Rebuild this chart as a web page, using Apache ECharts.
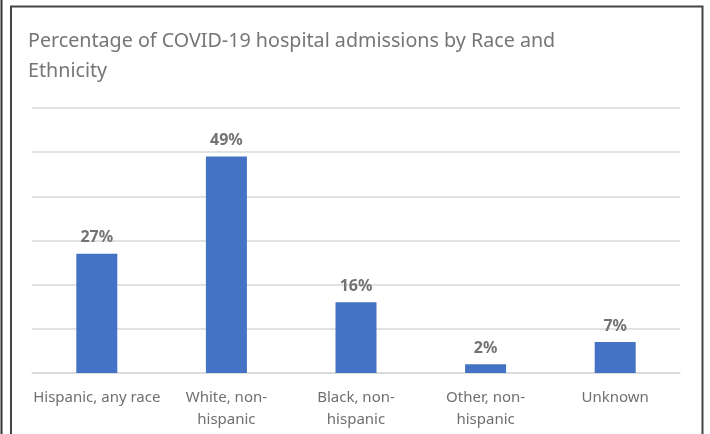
<!DOCTYPE html>
<html><head><meta charset="utf-8">
<script src="https://cdn.jsdelivr.net/npm/echarts@6/dist/echarts.min.js"></script>
<style>html,body{margin:0;padding:0;background:#fff;}#c{width:710px;height:434px;}</style>
</head><body><div id="c"></div>
<script>
const categories = ['Hispanic, any race', 'White, non-hispanic', 'Black, non-hispanic', 'Other, non-hispanic', 'Unknown'];
const values = [27, 49, 16, 2, 7];
const titleText = 'Percentage of COVID-19 hospital admissions by Race and\nEthnicity';

const chart = echarts.init(document.getElementById('c'));
chart.setOption({
  animation: false,
  title: {
    text: titleText,
    left: 28, top: 26, padding: 0,
    textStyle: { fontFamily: 'Noto Sans', fontSize: 19.7, fontWeight: 'normal', color: '#767676', lineHeight: 30 }
  },
  graphic: [
    { type: 'line', shape: { x1: 1.5, y1: 0, x2: 1.5, y2: 434 }, style: { stroke: '#333', lineWidth: 2 } },
    { type: 'polyline', shape: { points: [[11, 434], [11, 6.5], [702.5, 6.5], [702.5, 434]] }, style: { stroke: '#444', lineWidth: 2, fill: null } }
  ],
  grid: { left: 32, right: 30, top: 108, bottom: 61 },
  xAxis: {
    type: 'category', data: categories,
    axisLine: { lineStyle: { color: '#d9d9d9', width: 1.5 } },
    axisTick: { show: false },
    axisLabel: {
      interval: 0, margin: 14, color: '#6f6f6f', fontFamily: 'Noto Sans', fontSize: 15, lineHeight: 22,
      formatter: v => v.replace(', non-', ', non-\n')
    }
  },
  yAxis: {
    type: 'value', min: 0, max: 60, interval: 10,
    axisLabel: { show: false }, axisLine: { show: false }, axisTick: { show: false },
    splitLine: { lineStyle: { color: '#d9d9d9', width: 1.5 } }
  },
  series: [{
    type: 'bar', data: values, barWidth: 41,
    itemStyle: { color: '#4472C4' },
    label: {
      show: true, position: 'top', distance: 8, formatter: '{c}%',
      color: '#737373', fontFamily: 'Noto Sans', fontSize: 16, fontWeight: 'bold'
    }
  }]
});
</script></body></html>
